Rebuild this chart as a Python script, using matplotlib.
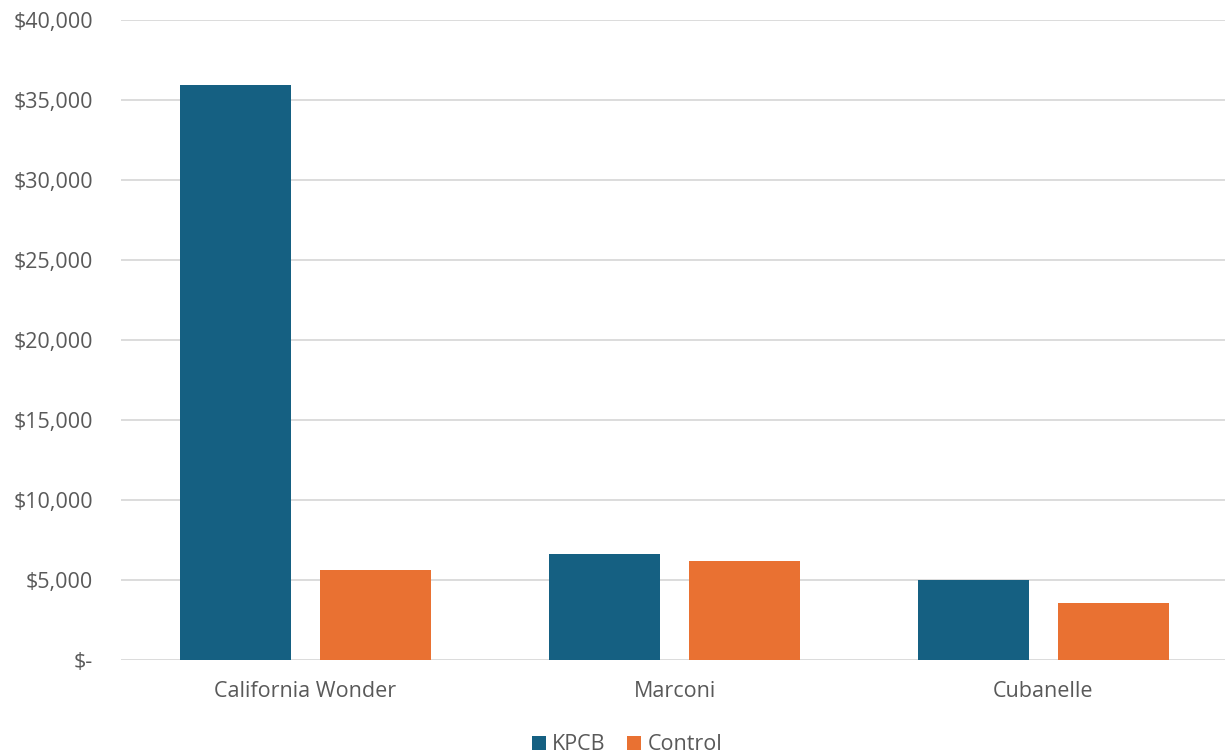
import matplotlib.pyplot as plt
import numpy as np
from matplotlib.ticker import FuncFormatter

categories = ['California Wonder', 'Marconi', 'Cubanelle']
kpcb = [35940, 6640, 5020]
control = [5610, 6210, 3560]

plt.rcParams['font.family'] = ['Open Sans', 'DejaVu Sans']
text_color = '#595959'

fig = plt.figure(figsize=(12.25, 7.55), dpi=100)
ax = fig.add_axes([121 / 1225, 95 / 755, 1107 / 1225, 640 / 755])

x = np.arange(len(categories))
w = 0.3
off = 0.189
ax.bar(x - off, kpcb, w, color='#156082', label='KPCB', zorder=3)
ax.bar(x + off, control, w, color='#E97132', label='Control', zorder=3)

ax.set_xlim(-0.5, 2.5)
ax.set_ylim(0, 40000)
ax.set_yticks(np.arange(0, 40001, 5000))
ax.yaxis.set_major_formatter(FuncFormatter(lambda v, p: '$-' if v == 0 else f'${v:,.0f}'))
ax.grid(axis='y', color='#d9d9d9', linewidth=1.3, zorder=0)
ax.set_xticks(x)
ax.set_xticklabels(categories)
ax.tick_params(axis='both', length=0, labelsize=15.5, colors=text_color)
ax.tick_params(axis='y', pad=20)
ax.tick_params(axis='x', pad=15)
for s in ax.spines.values():
    s.set_visible(False)

fig.legend(loc='lower center', bbox_to_anchor=(0.512, -0.026), ncol=2, frameon=False,
           fontsize=15.5, labelcolor=text_color, handlelength=0.65, handleheight=0.65,
           handletextpad=0.3, columnspacing=1.0)

fig.savefig('out.png', dpi=100)
